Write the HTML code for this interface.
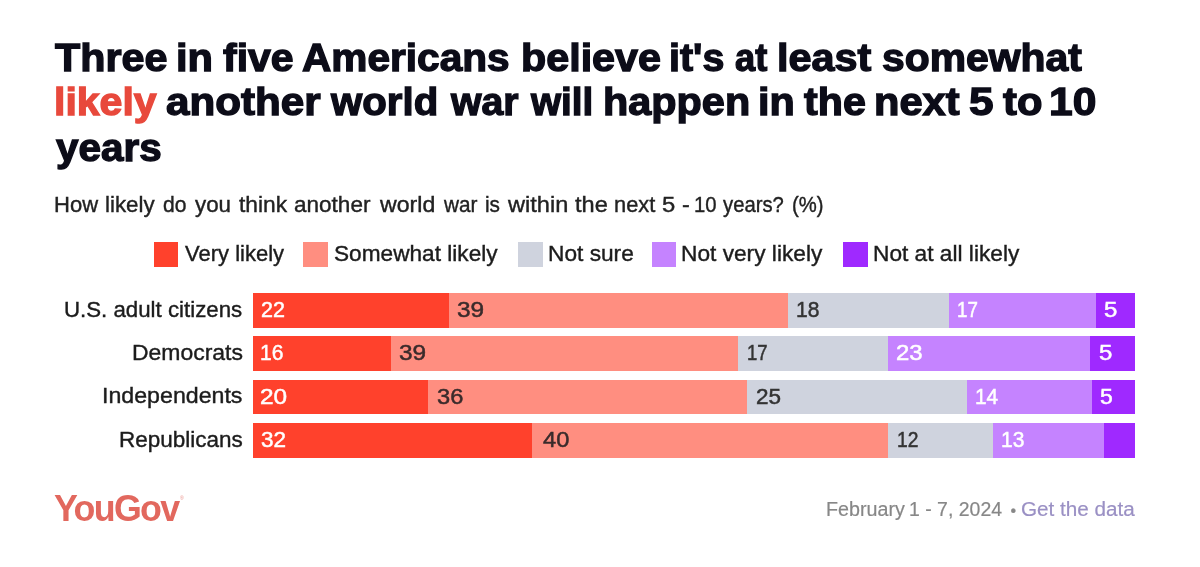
<!DOCTYPE html>
<html lang="en">
<head>
<meta charset="utf-8">
<title>Three in five Americans believe it's at least somewhat likely another world war will happen in the next 5 to 10 years</title>
<style>
html,body{margin:0;padding:0;background:#fff;}
body{width:1200px;height:567px;position:relative;overflow:hidden;font-family:"Liberation Sans",Arial,sans-serif;color:#1c1c1c;}
.abs{position:absolute;white-space:nowrap;transform-origin:0 50%;}
h1{position:absolute;left:0;top:0;margin:0;width:1200px;height:180px;font-size:38.5px;line-height:44.5px;font-weight:bold;color:#0c0c18;-webkit-text-stroke:1.3px;}
h1 .tl{position:absolute;left:0;width:1200px;height:44.5px;display:block;white-space:nowrap;}
h1 .tl span{position:absolute;top:0;display:block;transform-origin:0 50%;white-space:nowrap;}
h1 .hl{color:#e8493c;}
.subl{position:absolute;left:0;top:193px;width:1200px;height:24px;font-size:22.5px;line-height:24px;color:#222;-webkit-text-stroke:0.4px;white-space:nowrap;}
.subl span{position:absolute;top:0;display:block;transform-origin:0 50%;white-space:nowrap;}
.sw{position:absolute;top:242px;width:24.6px;height:24.6px;}
.lg{top:241.5px;font-size:22.5px;line-height:24px;color:#1c1c1c;-webkit-text-stroke:0.4px;}
.row{position:absolute;left:0;width:1200px;height:34.8px;}
.name{position:absolute;top:-0.5px;height:34.8px;line-height:34.8px;font-size:22.5px;white-space:nowrap;color:#1c1c1c;transform-origin:0 50%;-webkit-text-stroke:0.4px;}
.bar{position:absolute;left:253px;top:0;width:881.75px;height:34.8px;overflow:hidden;}
.seg{position:absolute;top:0;right:0;height:34.8px;line-height:34.8px;font-size:22px;white-space:nowrap;overflow:hidden;-webkit-text-stroke:0.5px;}
.seg span{position:absolute;top:0;display:block;transform-origin:0 50%;}
.c1{background:#ff412c;color:#fff;}
.c2{background:#ff8e80;color:#3a2b2b;}
.c3{background:#cfd3de;color:#333;}
.c4{background:#c583ff;color:#fff;}
.c5{background:#9f29ff;color:#fff;}
.logo{top:489px;font-size:36px;line-height:40px;font-weight:bold;color:#e2685e;letter-spacing:-1.7px;}
.reg{top:494px;left:180px;font-size:5px;line-height:8px;color:#ea9089;}
.foot{top:497px;font-size:20px;line-height:24px;color:#878787;-webkit-text-stroke:0.2px;}
.lnk{color:#9a90c4;}
</style>
</head>
<body>
<h1><span class="tl" style="top:36.1px"><span style="left:55.27px;transform:scaleX(1.0718)">Three</span> <span style="left:176.09px;transform:scaleX(1.0820)">in</span> <span style="left:222.50px;transform:scaleX(1.0646)">five</span> <span style="left:302.00px;transform:scaleX(1.0548)">Americans</span> <span style="left:520.62px;transform:scaleX(1.0721)">believe</span> <span style="left:669.20px;transform:scaleX(1.0244)">it's</span> <span style="left:734.53px;transform:scaleX(0.9412)">at</span> <span style="left:777.35px;transform:scaleX(1.0756)">least</span> <span style="left:882.47px;transform:scaleX(1.0612)">somewhat</span> </span>
<span class="tl" style="top:80.2px"><span class="hl" style="left:53.62px;transform:scaleX(1.0658)">likely</span> <span style="left:166.45px;transform:scaleX(1.0959)">another</span> <span style="left:331.04px;transform:scaleX(1.0442)">world</span> <span style="left:451.02px;transform:scaleX(1.0185)">war</span> <span style="left:531.00px;transform:scaleX(1.0041)">will</span> <span style="left:603.35px;transform:scaleX(1.0750)">happen</span> <span style="left:758.35px;transform:scaleX(1.0738)">in</span> <span style="left:804.02px;transform:scaleX(1.0699)">the</span> <span style="left:873.86px;transform:scaleX(1.0806)">next</span> <span style="left:968.93px;transform:scaleX(1.1463)">5</span> <span style="left:1002.77px;transform:scaleX(1.0839)">to</span> <span style="left:1049.32px;transform:scaleX(1.1056)">10</span> </span>
<span class="tl" style="top:126.2px"><span style="left:56.09px;transform:scaleX(1.0498)">years</span> </span>
</h1>
<div class="subl"><span style="left:54.03px;transform:scaleX(0.9783)">How</span> <span style="left:105.46px;transform:scaleX(0.9918)">likely</span> <span style="left:162.60px;transform:scaleX(0.9362)">do</span> <span style="left:194.95px;transform:scaleX(0.9929)">you</span> <span style="left:239.20px;transform:scaleX(1.0115)">think</span> <span style="left:293.95px;transform:scaleX(1.0013)">another</span> <span style="left:380.26px;transform:scaleX(1.0275)">world</span> <span style="left:443.53px;transform:scaleX(0.9214)">war</span> <span style="left:484.64px;transform:scaleX(0.9241)">is</span> <span style="left:507.76px;transform:scaleX(1.0478)">within</span> <span style="left:574.70px;transform:scaleX(1.0492)">the</span> <span style="left:613.79px;transform:scaleX(0.9697)">next</span> <span style="left:662.27px;transform:scaleX(1.0600)">5</span> <span style="left:681.73px;transform:scaleX(1.0333)">-</span> <span style="left:694.01px;transform:scaleX(0.9000)">10</span> <span style="left:722.71px;transform:scaleX(0.9000)">years?</span> <span style="left:792.15px;transform:scaleX(0.9000)">(%)</span> </div>

<div class="sw c1" style="left:153.6px"></div><div class="abs lg" style="left:185.24px;transform:scaleX(0.9779)">Very likely</div>
<div class="sw c2" style="left:303.2px"></div><div class="abs lg" style="left:334.25px;transform:scaleX(1.0062)">Somewhat likely</div>
<div class="sw c3" style="left:518px"></div><div class="abs lg" style="left:547.99px;transform:scaleX(1.0091)">Not sure</div>
<div class="sw c4" style="left:651.7px"></div><div class="abs lg" style="left:681.49px;transform:scaleX(1.0090)">Not very likely</div>
<div class="sw c5" style="left:843px"></div><div class="abs lg" style="left:872.99px;transform:scaleX(1.0087)">Not at all likely</div>

<div class="row" style="top:293.0px"><div class="name" style="left:64.42px;transform:scaleX(0.9893)">U.S. adult citizens</div>
 <div class="bar"><div class="seg c1" style="left:0.00px"><span style="left:7.52px;transform:scaleX(0.978)">22</span></div><div class="seg c2" style="left:195.90px"><span style="left:8.55px;transform:scaleX(1.108)">39</span></div><div class="seg c3" style="left:535.25px"><span style="left:7.82px;transform:scaleX(0.955)">18</span></div><div class="seg c4" style="left:696.25px"><span style="left:7.97px;transform:scaleX(0.854)">17</span></div><div class="seg c5" style="left:842.50px"><span style="left:8.45px;transform:scaleX(1.091)">5</span></div></div></div>
<div class="row" style="top:336.1px"><div class="name" style="left:131.57px;transform:scaleX(1.0201)">Democrats</div>
 <div class="bar"><div class="seg c1" style="left:0.00px"><span style="left:6.82px;transform:scaleX(0.955)">16</span></div><div class="seg c2" style="left:138.10px"><span style="left:8.35px;transform:scaleX(1.108)">39</span></div><div class="seg c3" style="left:485.25px"><span style="left:9.24px;transform:scaleX(0.843)">17</span></div><div class="seg c4" style="left:634.75px"><span style="left:8.43px;transform:scaleX(1.087)">23</span></div><div class="seg c5" style="left:837.10px"><span style="left:9.35px;transform:scaleX(1.091)">5</span></div></div></div>
<div class="row" style="top:379.6px"><div class="name" style="left:102.20px;transform:scaleX(1.0299)">Independents</div>
 <div class="bar"><div class="seg c1" style="left:0.00px"><span style="left:7.42px;transform:scaleX(1.108)">20</span></div><div class="seg c2" style="left:174.50px"><span style="left:9.96px;transform:scaleX(1.075)">36</span></div><div class="seg c3" style="left:494.00px"><span style="left:8.73px;transform:scaleX(1.022)">25</span></div><div class="seg c4" style="left:714.20px"><span style="left:7.63px;transform:scaleX(0.944)">14</span></div><div class="seg c5" style="left:839.00px"><span style="left:7.98px;transform:scaleX(1.045)">5</span></div></div></div>
<div class="row" style="top:423.0px"><div class="name" style="left:118.90px;transform:scaleX(0.9988)">Republicans</div>
 <div class="bar"><div class="seg c1" style="left:0.00px"><span style="left:7.74px;transform:scaleX(1.022)">32</span></div><div class="seg c2" style="left:279.20px"><span style="left:11.03px;transform:scaleX(1.074)">40</span></div><div class="seg c3" style="left:634.50px"><span style="left:9.19px;transform:scaleX(0.876)">12</span></div><div class="seg c4" style="left:739.50px"><span style="left:8.57px;transform:scaleX(0.955)">13</span></div><div class="seg c5" style="left:851.30px"></div></div></div>

<div class="abs logo" style="left:53.95px;transform:scaleX(0.9944)">YouGov</div><div class="abs reg">®</div>
<div class="abs foot" style="left:826.22px;transform:scaleX(0.9847)">February</div><div class="abs foot" style="left:909.34px;transform:scaleX(0.9728)">1 - 7, 2024</div><div class="abs foot" style="left:1010.50px;transform:scaleX(1.0000)"><span style="font-size:16px">•</span></div><div class="abs foot lnk" style="left:1021.47px;transform:scaleX(1.0343)">Get the data</div>
</body>
</html>
